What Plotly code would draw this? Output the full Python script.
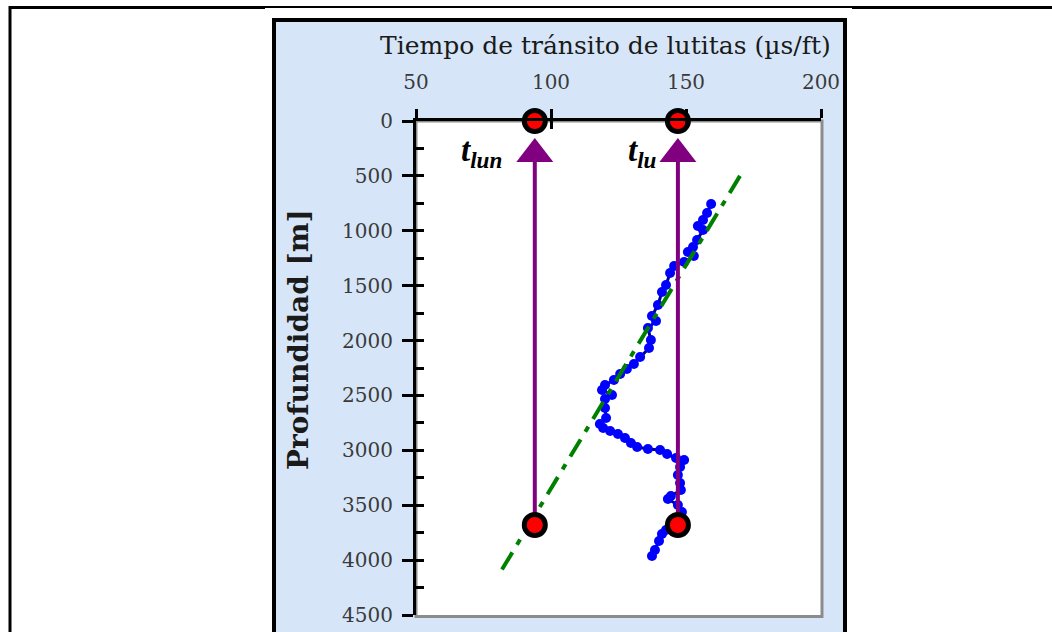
import plotly.graph_objects as go

# Shale transit time log (µs/ft) versus depth (m)
profundidad = [756, 838, 902, 956, 993, 1084, 1148, 1193, 1230, 1284, 1321, 1385,
               1494, 1558, 1676, 1776, 1822, 1886, 1995, 2068, 2150, 2213, 2259,
               2305, 2359, 2405, 2450, 2496, 2532, 2614, 2705, 2760, 2797, 2824,
               2851, 2888, 2933, 2970, 2988, 2997, 3033, 3070, 3088, 3152, 3225,
               3298, 3361, 3416, 3443, 3498, 3562, 3616, 3726, 3762, 3826, 3908, 3963]
tiempo = [159.3, 157.8, 156.3, 154.4, 156.3, 154.1, 152.6, 150.7, 152.9, 149.3,
          145.6, 144.1, 142.6, 141.1, 139.6, 137.4, 138.9, 135.9, 137.0, 136.3,
          133.0, 130.7, 128.1, 125.6, 123.3, 120.0, 118.9, 122.6, 120.0, 120.0,
          120.4, 118.1, 119.3, 121.9, 124.8, 127.4, 129.6, 131.9, 135.9, 140.4,
          143.0, 146.3, 149.3, 147.8, 147.0, 147.8, 148.1, 144.4, 143.3, 147.0,
          148.5, 146.3, 142.6, 141.1, 140.0, 138.5, 137.4]

# Normal compaction trend line (end points)
tendencia_tiempo = [170, 81]
tendencia_prof = [500, 4120]

# Reference readings: normal (t_lun) and observed (t_lu) transit times
t_lun = 94
t_lu = 147
prof_lectura = 3680
prof_flecha = 300

x_ticks = [50, 100, 150, 200]
y_ticks = [0, 500, 1000, 1500, 2000, 2500, 3000, 3500, 4000, 4500]
y_minor = list(range(0, 4501, 250))

W, H = 1052, 632
L, R, T, B = 416, 821, 121, 615


def px_x(p):
    return (p - L) / (R - L)


def px_y(p):
    return (B - p) / (B - T)


SERIF = "DejaVu Serif"

fig = go.Figure()

fig.add_trace(go.Scatter(
    x=tiempo, y=profundidad, mode="lines+markers",
    line=dict(color="#000080", width=3),
    marker=dict(color="#0000ff", size=10, symbol="circle"),
    showlegend=False, hoverinfo="skip"))

fig.add_trace(go.Scatter(
    x=tendencia_tiempo, y=tendencia_prof, mode="lines",
    line=dict(color="#008000", width=4, dash="20px,9px,6px,9px"),
    showlegend=False, hoverinfo="skip"))

for tv in (t_lun, t_lu):
    fig.add_trace(go.Scatter(
        x=[tv, tv], y=[prof_lectura, prof_flecha + 60], mode="lines",
        line=dict(color="#800080", width=4),
        showlegend=False, hoverinfo="skip"))

fig.add_trace(go.Scatter(
    x=[t_lun, t_lu], y=[prof_flecha, prof_flecha], mode="markers",
    marker=dict(symbol="triangle-up", size=32, color="#800080"),
    showlegend=False, hoverinfo="skip", cliponaxis=False))

fig.add_trace(go.Scatter(
    x=[t_lun, t_lu, t_lun, t_lu], y=[0, 0, prof_lectura, prof_lectura],
    mode="markers",
    marker=dict(symbol="circle", size=21, color="#ff0000",
                line=dict(color="black", width=5)),
    showlegend=False, hoverinfo="skip", cliponaxis=False))

# Empty trace so the overlay axes (inside ticks) get drawn
fig.add_trace(go.Scatter(x=[None], y=[None], xaxis="x2", yaxis="y2",
                         showlegend=False, hoverinfo="skip"))

shapes = [
    # light blue chart panel with black border
    dict(type="rect", xref="paper", yref="paper", layer="below",
         x0=px_x(274), x1=px_x(845), y0=px_y(660), y1=px_y(20),
         fillcolor="#d6e6f8", line=dict(color="black", width=4)),
    # white plotting area with grey frame
    dict(type="rect", xref="paper", yref="paper", layer="below",
         x0=0, x1=px_x(822), y0=px_y(616.5), y1=1,
         fillcolor="white", line=dict(color="#8c8c8c", width=3)),
    # page frame lines
    dict(type="line", xref="paper", yref="paper", layer="above",
         x0=px_x(9), x1=px_x(265), y0=px_y(7.5), y1=px_y(7.5),
         line=dict(color="black", width=3)),
    dict(type="line", xref="paper", yref="paper", layer="above",
         x0=px_x(265), x1=px_x(852), y0=px_y(7), y1=px_y(7),
         line=dict(color="black", width=2)),
    dict(type="line", xref="paper", yref="paper", layer="above",
         x0=px_x(852), x1=px_x(1052), y0=px_y(7.5), y1=px_y(7.5),
         line=dict(color="black", width=3)),
    dict(type="line", xref="paper", yref="paper", layer="above",
         x0=px_x(10), x1=px_x(10), y0=px_y(6), y1=px_y(660),
         line=dict(color="black", width=3)),
]

annotations = [
    dict(text="Tiempo de tránsito de lutitas (µs/ft)", xref="paper", yref="paper",
         x=px_x(605), y=px_y(45), xanchor="center", yanchor="middle",
         showarrow=False, font=dict(family=SERIF, size=25, color="#1a1a1a")),
    dict(text="<b>Profundidad [m]</b>", xref="paper", yref="paper",
         x=px_x(298), y=px_y(340), xanchor="center", yanchor="middle",
         textangle=-90, showarrow=False,
         font=dict(family=SERIF, size=28, color="#1a1a1a")),
    dict(text="<b><i>t<sub>lun</sub></i></b>", xref="paper", yref="paper",
         x=px_x(481), y=px_y(153), xanchor="center", yanchor="middle",
         showarrow=False, font=dict(family="Liberation Serif", size=33, color="black")),
    dict(text="<b><i>t<sub>lu</sub></i></b>", xref="paper", yref="paper",
         x=px_x(642), y=px_y(153), xanchor="center", yanchor="middle",
         showarrow=False, font=dict(family="Liberation Serif", size=33, color="black")),
]

tick_font = dict(family=SERIF, size=20, color="#3a3a3a")

fig.update_layout(
    width=W, height=H, autosize=False,
    margin=dict(l=L, r=W - R, t=T, b=H - B, pad=0, autoexpand=False),
    paper_bgcolor="white", plot_bgcolor="white",
    shapes=shapes, annotations=annotations,
    xaxis=dict(side="top", range=[50, 200], tickmode="array", tickvals=x_ticks,
               ticks="outside", ticklen=9, tickwidth=3, tickcolor="black",
               showline=True, linewidth=3, linecolor="black",
               showgrid=False, zeroline=False, tickfont=tick_font,
               ticklabelstandoff=12, anchor="y", automargin=False),
    xaxis2=dict(overlaying="x", matches="x", side="top", tickmode="array",
                tickvals=x_ticks, ticks="inside", ticklen=8, tickwidth=3,
                tickcolor="black", showticklabels=False, showline=False,
                showgrid=False, zeroline=False, anchor="y2", automargin=False),
    yaxis=dict(range=[4500, 0], tickmode="array", tickvals=y_ticks,
               ticks="outside", ticklen=11, tickwidth=3, tickcolor="black",
               showline=True, linewidth=3, linecolor="black",
               showgrid=False, zeroline=False, tickfont=tick_font,
               ticklabelstandoff=5, anchor="x", automargin=False),
    yaxis2=dict(overlaying="y", matches="y", side="left", tickmode="array",
                tickvals=y_minor, ticks="inside", ticklen=8, tickwidth=3,
                tickcolor="black", showticklabels=False, showline=False,
                showgrid=False, zeroline=False, anchor="x2", automargin=False),
)

fig.write_html("out.html")
